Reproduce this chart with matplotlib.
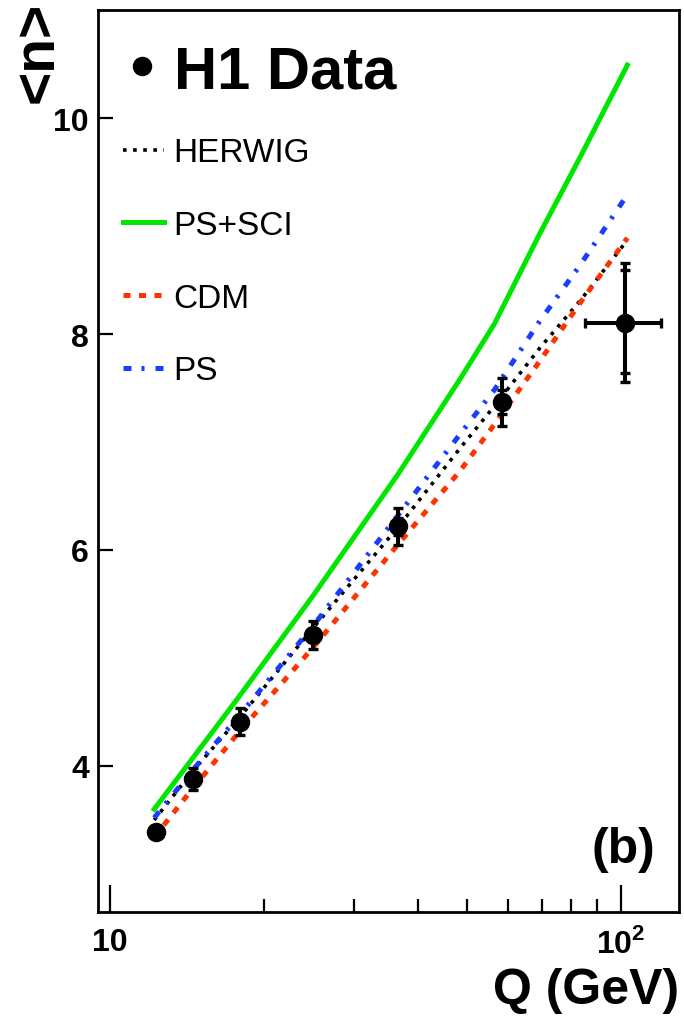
import numpy as np
import matplotlib
matplotlib.use("Agg")
import matplotlib.pyplot as plt
from matplotlib.ticker import FixedLocator, FixedFormatter, NullFormatter

plt.rcParams['font.family'] = ['Liberation Sans', 'DejaVu Sans']
plt.rcParams['mathtext.fontset'] = 'custom'
plt.rcParams['mathtext.rm'] = 'Liberation Sans:bold'
plt.rcParams['mathtext.bf'] = 'Liberation Sans:bold'

# H1 data points
q_data = [12.3, 14.5, 18.0, 25.0, 36.7, 58.4, 102.1]
n_data = [3.39, 3.88, 4.41, 5.21, 6.22, 7.37, 8.10]
n_tot_lo = [0.05, 0.10, 0.125, 0.13, 0.17, 0.22, 0.54]
n_tot_hi = [0.05, 0.10, 0.125, 0.13, 0.17, 0.22, 0.56]
n_stat_lo = [0.03, 0.05, 0.06, 0.06, 0.08, 0.11, 0.46]
n_stat_hi = [0.03, 0.05, 0.06, 0.06, 0.08, 0.11, 0.49]
# Q bin of the last point
q_last_lo = [85.1]
q_last_hi = [119.6]

# model curves
q_model = [12.2, 14.5, 18.0, 25.0, 36.6, 48.4, 56.5, 69.4, 83.3, 103.0]
herwig = [3.50, 3.95, 4.46, 5.28, 6.21, 6.94, 7.33, 7.87, 8.31, 8.87]
ps_sci = [3.60, 4.07, 4.66, 5.58, 6.70, 7.58, 8.09, 8.93, 9.64, 10.49]
cdm = [3.34, 3.79, 4.33, 5.10, 6.05, 6.73, 7.16, 7.75, 8.29, 8.89]
ps = [3.52, 3.96, 4.48, 5.30, 6.32, 7.07, 7.48, 8.12, 8.64, 9.29]

fig = plt.figure(figsize=(6.84, 10.20), dpi=100)
ax = fig.add_axes([0.1433, 0.1049, 0.8494, 0.8843])

l_herwig, = ax.plot(q_model, herwig, color='black', lw=2.6, dashes=(1.0, 1.8), zorder=3)
l_sci, = ax.plot(q_model, ps_sci, color='#00e600', lw=3.6, zorder=3)
l_cdm, = ax.plot(q_model, cdm, color='#ff3300', lw=3.6, dashes=(1.4, 1.7), zorder=3)
l_ps, = ax.plot(q_model, ps, color='#1a3cff', lw=3.6, dashes=(1.6, 2.0, 0.6, 2.2), zorder=3)

# data: total errors, stat errors, bin width of last point
eb = dict(fmt='none', ecolor='black', elinewidth=2.9, capsize=3.6, capthick=2.4, zorder=4)
ax.errorbar(q_data, n_data, yerr=[n_tot_lo, n_tot_hi], **eb)
ax.errorbar(q_data, n_data, yerr=[n_stat_lo, n_stat_hi], **eb)
ax.errorbar(q_data[-1:], n_data[-1:],
            xerr=[[q_data[-1] - q_last_lo[0]], [q_last_hi[0] - q_data[-1]]], **eb)
pts, = ax.plot(q_data, n_data, 'o', color='black', ms=13, zorder=5)

ax.set_xscale('log')
ax.set_xlim(9.47, 130)
ax.set_ylim(2.648, 11.0)

ax.xaxis.set_major_locator(FixedLocator([10, 100]))
ax.xaxis.set_major_formatter(FixedFormatter(['10', r'$10^{2}$']))
ax.xaxis.set_minor_locator(FixedLocator([20, 30, 40, 50, 60, 70, 80, 90]))
ax.xaxis.set_minor_formatter(NullFormatter())
ax.set_yticks([4, 6, 8, 10])
ax.set_yticklabels(['4', '6', '8', '10'])

ax.tick_params(axis='both', which='both', direction='in', top=False, right=False, width=1.6)
ax.tick_params(axis='x', which='major', length=19.4, pad=11, labelsize=23)
ax.tick_params(axis='x', which='minor', length=9.4)
ax.tick_params(axis='y', which='major', length=10.8, pad=6.5, labelsize=23)
for lab in ax.get_xticklabels() + ax.get_yticklabels():
    lab.set_fontweight('bold')
for sp in ax.spines.values():
    sp.set_linewidth(2.0)

ax.set_xlabel('Q (GeV)', loc='right', fontsize=36, fontweight='bold', labelpad=5.5)
ax.set_ylabel('<n>', loc='top', fontsize=41, fontweight='bold', labelpad=-8)
ax.yaxis.label.set_y(1.01)

leg1 = ax.legend([pts], ['H1 Data'], loc='upper left', bbox_to_anchor=(0.05, 0.962),
                 frameon=False, fontsize=43, handlelength=0.5, handletextpad=0.28,
                 borderpad=0, borderaxespad=0, markerscale=1.0)
leg1.get_texts()[0].set_fontweight('bold')
ax.add_artist(leg1)
ax.legend([l_herwig, l_sci, l_cdm, l_ps], ['HERWIG', 'PS+SCI', 'CDM', 'PS'],
          loc='upper left', bbox_to_anchor=(0.043, 0.859), frameon=False, fontsize=24,
          handlelength=1.24, handletextpad=0.27, labelspacing=1.25,
          borderpad=0, borderaxespad=0)

ax.text(0.9587, 0.0698, '(b)', transform=ax.transAxes, ha='right', va='center',
        fontsize=36, fontweight='bold')

fig.savefig('out.png', dpi=100)
